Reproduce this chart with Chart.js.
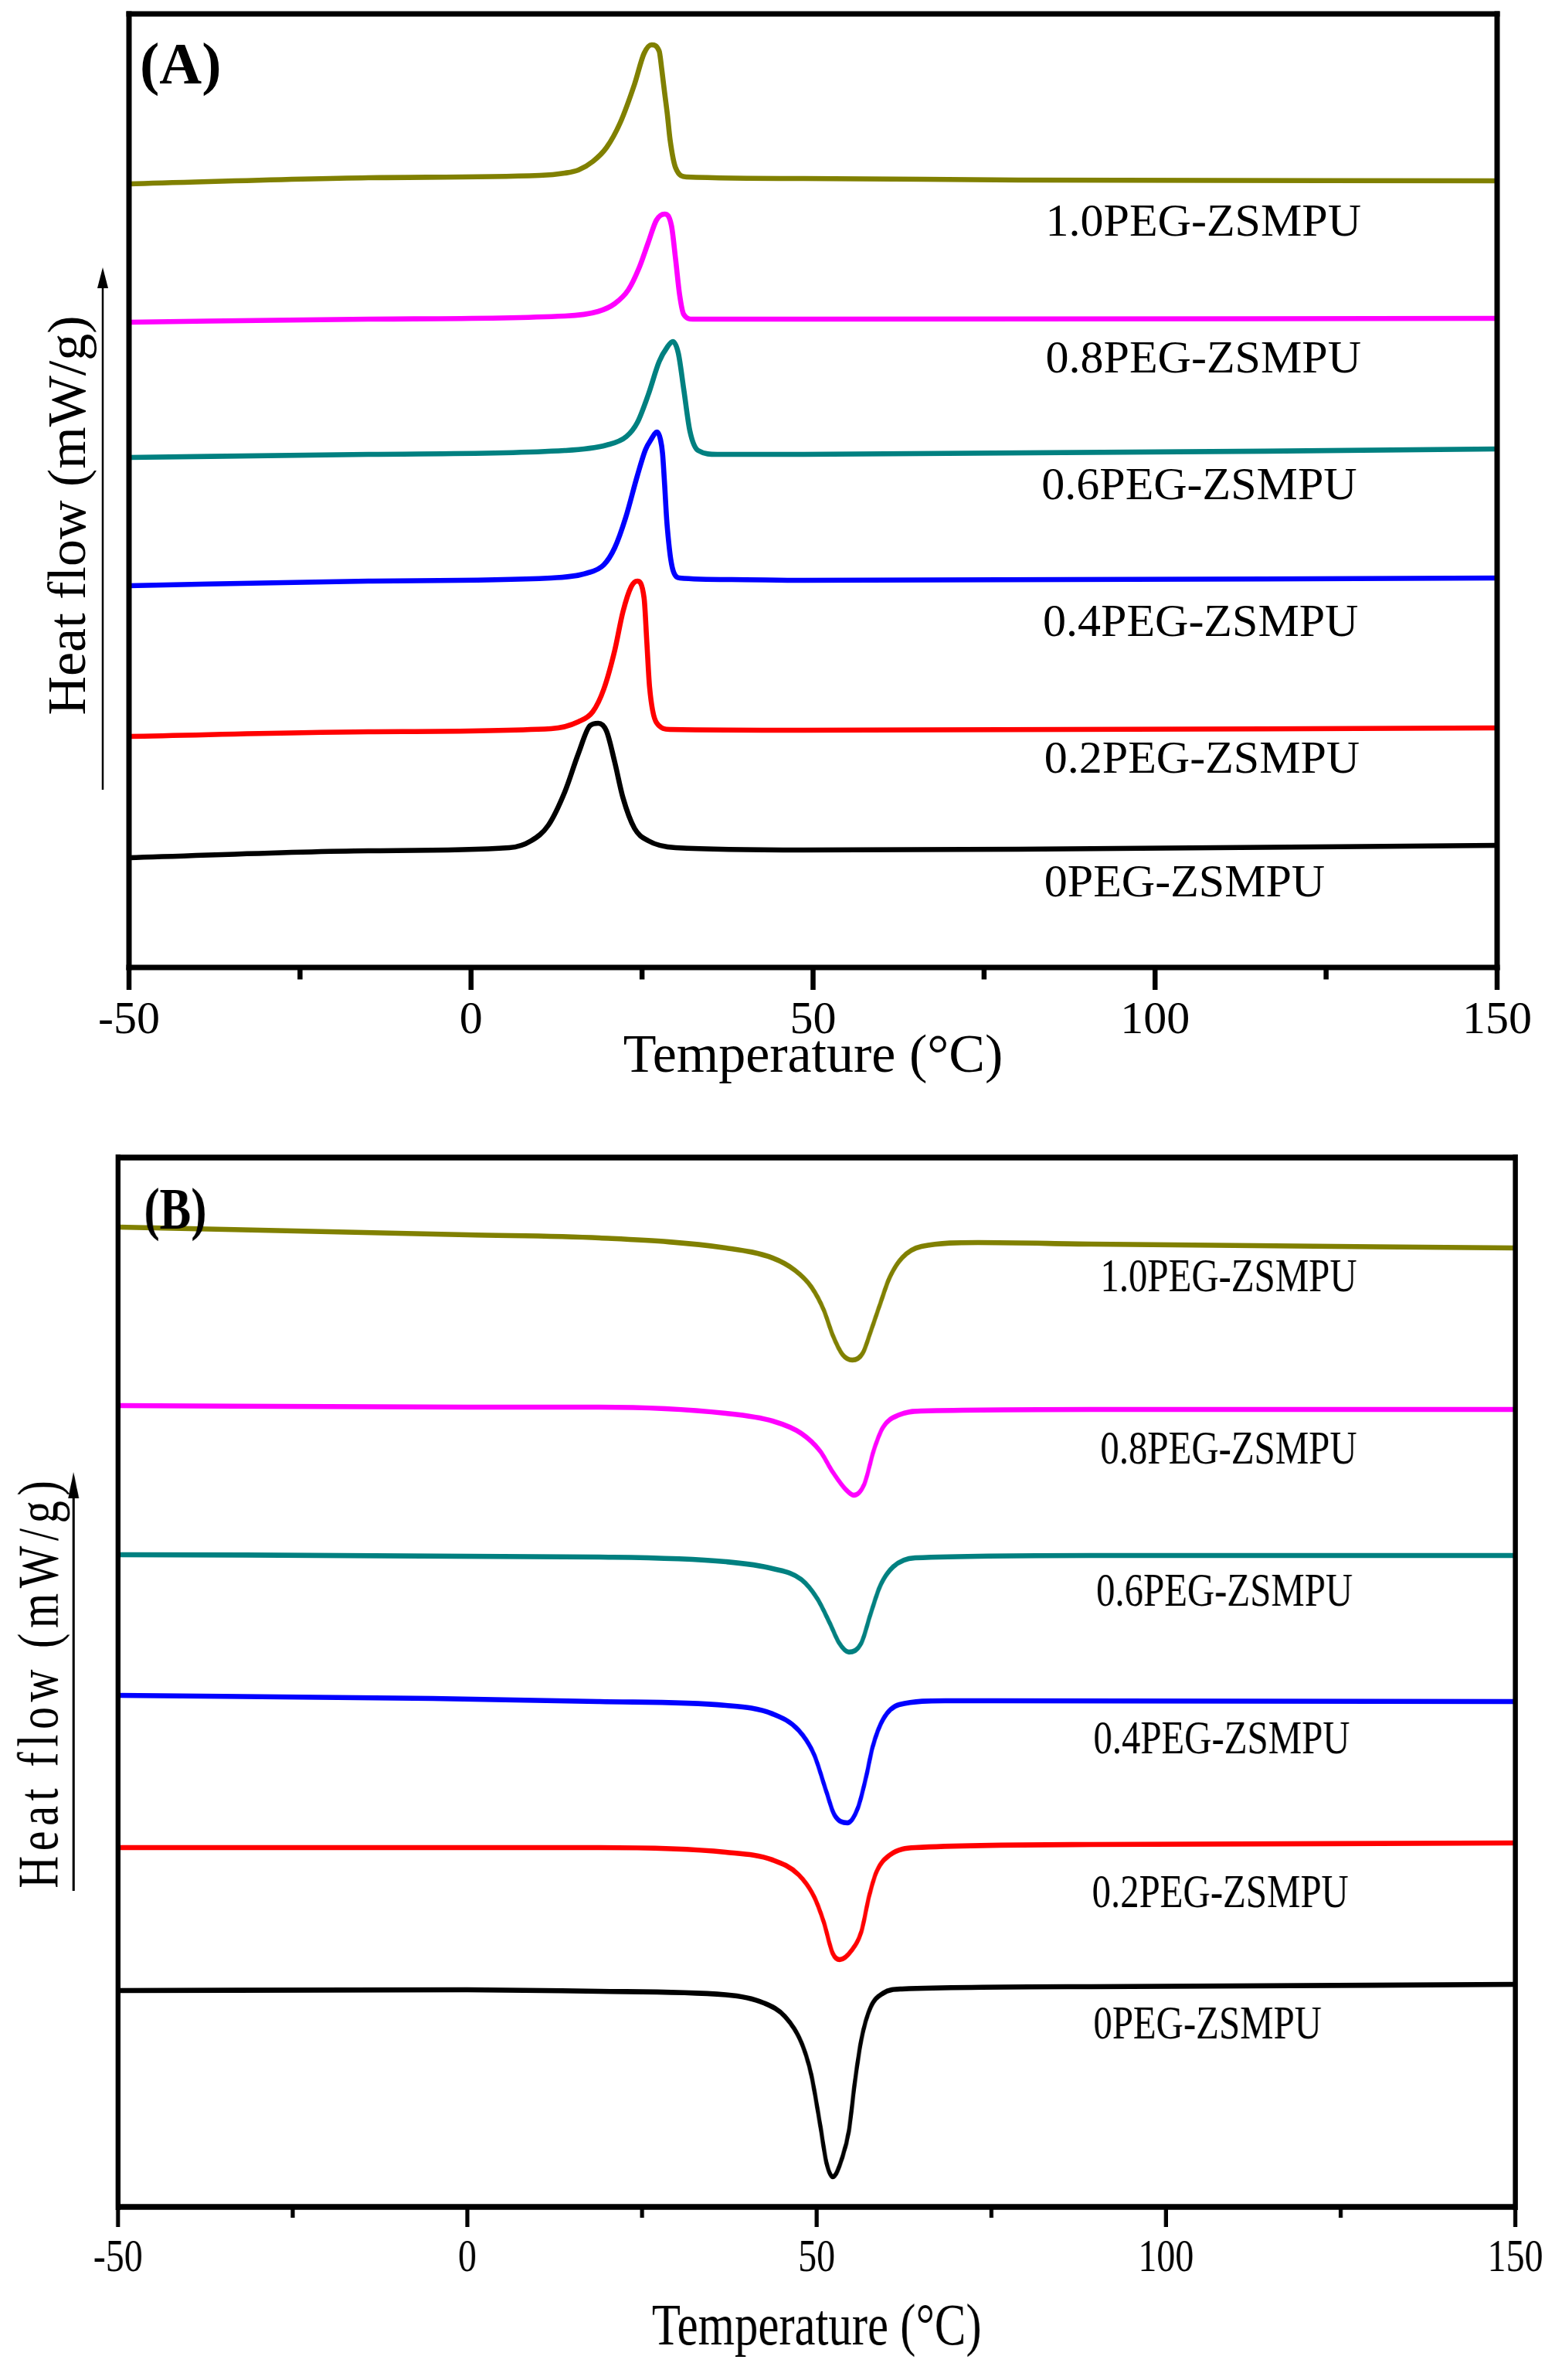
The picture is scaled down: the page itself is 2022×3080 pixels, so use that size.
<!DOCTYPE html>
<html><head><meta charset="utf-8">
<script src="https://cdn.jsdelivr.net/npm/chart.js@4.4.1/dist/chart.umd.min.js"></script>
<style>
html,body{margin:0;padding:0;background:#fff;overflow:hidden;width:2022px;height:3080px;}
#pa{position:absolute;left:0;top:0;width:2022px;height:1440px;}
#pb{position:absolute;left:0;top:1440px;width:2528px;height:1640px;transform:scaleX(0.8);transform-origin:0 0;}
canvas{display:block;}
</style></head><body>
<div id="pa"><canvas id="ca" width="2022" height="1440" style="width:2022px;height:1440px"></canvas></div>
<div id="pb"><canvas id="cb" width="2528" height="1640" style="width:2528px;height:1640px"></canvas></div>
<script>
// ---------- categories / series ----------
const seriesNames  = ['0PEG-ZSMPU','0.2PEG-ZSMPU','0.4PEG-ZSMPU','0.6PEG-ZSMPU','0.8PEG-ZSMPU','1.0PEG-ZSMPU'];
const seriesColors = ['#000000','#ff0000','#0000ff','#008080','#ff00ff','#808000'];
const xTickLabels  = ['-50','0','50','100','150'];

// ---------- Panel A (cooling, exotherm up): temperature (°C) / heat flow (offset, a.u.) ----------
const tA_00 = [-50,-15,5.6,8.8,11.3,13.7,15.7,17.4,18.6,19.8,21.0,22.2,23.9,25.9,29.9,48.6,80,150];
const hA_00 = [14.2,15.1,15.5,16.4,18.4,22.7,27.7,31.3,31.6,30.6,26.6,22.0,18.0,16.4,15.5,15.2,15.3,15.8];
const tA_02 = [-50,-15,11.7,15.7,17.8,19.4,21.0,22.2,23.4,24.3,25.3,25.7,26.1,27.1,29.1,48.6,150];
const hA_02 = [29.9,30.5,30.9,31.8,33.1,36.0,41.0,46.0,49.25,50.0,47.8,42.1,36.3,31.7,30.8,30.7,31.0];
const tA_04 = [-50,-15,11.7,17.0,19.4,21.0,22.6,24.3,25.5,26.3,27.2,27.7,28.0,28.3,28.6,28.9,29.2,29.6,30.5,38.1,48.6,150];
const hA_04 = [49.4,50.0,50.4,51.05,52.1,54.3,58.2,63.6,67.0,68.3,69.3,68.3,66.5,62.5,58.0,55.0,52.8,51.2,50.4,50.2,50.1,50.4];
const tA_06 = [-50,-15,13.7,19.8,22.7,24.3,25.9,27.5,28.7,29.5,30.3,31.1,32.0,33.2,36.0,48.6,150];
const hA_06 = [66.0,66.4,66.9,67.6,68.7,70.5,74.1,78.4,80.3,81.0,79.5,74.8,69.4,66.9,66.4,66.4,67.1];
const tA_08 = [-50,-15,13.7,18.6,21.0,23.0,24.6,25.9,27.1,28.3,29.3,29.9,30.5,31.1,32.4,48.6,150];
const hA_08 = [83.5,83.9,84.3,84.9,85.9,87.7,90.6,93.8,96.7,97.5,96.0,91.7,87.0,84.5,83.9,83.9,84.0];
const tA_10 = [-50,-15,10,13.7,15.7,17.8,19.8,21.8,23.9,25.3,26.4,27.5,27.9,28.3,28.7,29.1,29.9,31.5,48.6,80,150];
const hA_10 = [101.4,102.2,102.5,102.8,103.2,104.3,106.1,109.3,114.3,118.3,119.4,118.6,116.1,113.2,110.4,107.1,103.5,102.3,102.1,101.9,101.8];

// ---------- Panel B (heating, endotherm down) ----------
const tB_00 = [-50,0,18.9,37.0,42.4,45.5,47.8,49.2,50.5,51.4,52.3,53.7,54.6,55.5,56.4,57.7,59.5,62.2,89.3,150];
const hB_00 = [28.0,28.1,27.9,27.45,26.4,24.6,21.3,17.2,10.6,5.7,3.9,6.5,9.8,16.4,21.7,25.8,27.65,28.2,28.5,28.8];
const tB_02 = [-50,18.9,37.0,43.7,47.4,49.6,51.0,52.3,53.3,55.0,56.4,57.5,58.6,60.4,64.1,89.3,150];
const hB_02 = [46.5,46.5,45.9,44.9,43.0,40.2,36.9,32.8,32.0,33.2,35.65,40.2,43.45,45.5,46.5,46.9,47.1];
const tB_04 = [-50,-5,18.9,37.0,43.7,47.4,49.6,51.4,52.5,54.4,55.9,57.1,58.0,59.5,61.8,68.4,150];
const hB_04 = [66.2,65.8,65.4,64.9,63.8,61.7,58.6,53.7,50.8,49.7,51.65,55.75,59.5,63.1,65.0,65.5,65.4];
const tB_06 = [-50,18.9,37.0,43.7,47.8,50.1,51.9,53.2,54.6,56.4,57.7,59.1,60.9,64.1,89.3,150];
const hB_06 = [84.4,84.1,83.5,82.6,81.2,78.7,75.5,73.0,71.8,73.0,76.7,80.4,82.8,84.0,84.3,84.3];
const tB_08 = [-50,0,18.9,37.0,43.7,47.8,50.5,52.3,54.1,55.3,56.8,58.2,59.5,61.8,65.0,89.3,150];
const hB_08 = [103.7,103.5,103.5,102.7,101.7,100.1,97.8,95.1,92.9,92.1,93.5,98.0,100.9,102.5,103.0,103.2,103.2];
const tB_10 = [-50,0,18.9,37.0,43.7,46.9,49.2,51.0,52.3,53.7,55.1,56.6,57.7,59.1,60.4,62.2,65.0,73.1,89.3,150];
const hB_10 = [126.8,125.8,125.4,124.1,122.8,121.2,119.1,116.1,112.8,110.3,109.6,110.5,113.2,116.9,120.2,122.8,124.3,124.8,124.6,124.1];

const panelA_T = [tA_00,tA_02,tA_04,tA_06,tA_08,tA_10];
const panelA_H = [hA_00,hA_02,hA_04,hA_06,hA_08,hA_10];
const panelB_T = [tB_00,tB_02,tB_04,tB_06,tB_08,tB_10];
const panelB_H = [hB_00,hB_02,hB_04,hB_06,hB_08,hB_10];

// ---------- rendering ----------
const SERIF = '"Liberation Serif","Times New Roman",Times,serif';

function buildDatasets(T, H, lw) {
  return T.map((t, s) => ({
    label: seriesNames[s],
    data: t.map((x, i) => ({x: x, y: H[s][i]})),
    borderColor: seriesColors[s],
    backgroundColor: seriesColors[s],
    borderWidth: lw,
    fill: false,
    pointRadius: 0,
    cubicInterpolationMode: 'monotone',
    borderJoinStyle: 'round',
    borderCapStyle: 'round'
  }));
}

function drawSpaced(ctx, text, spacing) {
  const chars = [...text];
  const w = chars.map(c => ctx.measureText(c).width);
  const total = w.reduce((a, b) => a + b, 0) + spacing * (chars.length - 1);
  let x = -total / 2;
  ctx.textAlign = 'left';
  chars.forEach((c, i) => { ctx.fillText(c, x, 0); x += w[i] + spacing; });
}

function panelPlugin(p) {
  return {
    id: 'decor' + p.tag,
    afterDatasetsDraw(chart) {
      const ctx = chart.ctx, a = chart.chartArea, xs = chart.scales.x, ys = chart.scales.y;
      const seg = (x1, y1, x2, y2) => { ctx.beginPath(); ctx.moveTo(x1, y1); ctx.lineTo(x2, y2); ctx.stroke(); };
      ctx.save();
      ctx.strokeStyle = '#000'; ctx.fillStyle = '#000';
      // frame
      ctx.lineCap = 'square';
      ctx.lineWidth = p.frameH;
      seg(a.left, a.top, a.right, a.top); seg(a.left, a.bottom, a.right, a.bottom);
      ctx.lineWidth = p.frameV;
      seg(a.left, a.top, a.left, a.bottom); seg(a.right, a.top, a.right, a.bottom);
      // major / minor ticks (outward)
      ctx.lineCap = 'butt'; ctx.lineWidth = p.tickW;
      for (let v = xs.min; v <= xs.max + 1e-9; v += 25) {
        const x = xs.getPixelForValue(v);
        const L = (Math.abs(v % 50) < 1e-9) ? p.majorLen : p.minorLen;
        seg(x, a.bottom, x, a.bottom + L);
      }
      // panel tag
      ctx.font = p.tagFont; ctx.textAlign = 'left'; ctx.textBaseline = 'alphabetic';
      ctx.fillText(p.tag, p.tagX, p.tagY);
      // curve labels, anchored in data coordinates
      ctx.font = p.labelFont;
      p.labels.forEach((lb, s) => {
        ctx.fillText(seriesNames[s], xs.getPixelForValue(lb[0]), ys.getPixelForValue(lb[1]));
      });
      // y axis title (rotated)
      ctx.save();
      ctx.translate(p.yl.x, p.yl.y);
      ctx.rotate(-Math.PI / 2);
      ctx.scale(1, p.yl.sy);
      ctx.font = p.yl.font; ctx.textBaseline = 'alphabetic';
      drawSpaced(ctx, 'Heat flow (mW/g)', p.yl.spacing);
      ctx.restore();
      // arrow
      const ar = p.arrow;
      ctx.lineWidth = ar.lw; ctx.lineCap = 'butt';
      seg(ar.x, ar.bottom, ar.x, ar.base);
      ctx.beginPath();
      ctx.moveTo(ar.x, ar.tip); ctx.lineTo(ar.x - ar.hw, ar.base); ctx.lineTo(ar.x + ar.hw, ar.base);
      ctx.closePath(); ctx.fill();
      ctx.restore();
    }
  };
}

function makeChart(id, datasets, ymax, pad, xo, plugin) {
  return new Chart(document.getElementById(id), {
    type: 'line',
    data: { datasets },
    options: {
      responsive: false, devicePixelRatio: 1, animation: false, events: [],
      layout: { padding: pad },
      plugins: { legend: { display: false }, tooltip: { enabled: false }, title: { display: false } },
      scales: {
        x: {
          type: 'linear', min: -50, max: 150,
          grid: { display: false, drawTicks: false }, border: { display: false },
          ticks: { stepSize: 50, autoSkip: false, maxRotation: 0, color: '#000',
                   padding: xo.tickPad, font: { family: SERIF, size: 60 },
                   callback: (v) => xTickLabels[Math.round((v + 50) / 50)] },
          title: { display: true, text: 'Temperature (°C)', color: '#000',
                   font: { family: SERIF, size: xo.titleSize }, padding: { top: 0, bottom: xo.titlePad } },
          afterFit: (s) => { s.height = xo.height; }
        },
        y: { type: 'linear', display: false, min: 0, max: ymax }
      }
    },
    plugins: [plugin]
  });
}

makeChart('ca', buildDatasets(panelA_T, panelA_H, 6.6), 123.4,
  { left: 167, right: 84, top: 18, bottom: 0 },
  { tickPad: 33, titleSize: 70, titlePad: 29, height: 188 },
  panelPlugin({
    tag: '(A)', tagFont: 'bold 76px ' + SERIF, tagX: 181, tagY: 108,
    frameH: 7, frameV: 7, tickW: 6.5, majorLen: 29, minorLen: 15.5,
    labelFont: '60px ' + SERIF,
    labels: [[83.8, 9.2], [83.8, 25.2], [83.6, 42.9], [83.4, 60.6], [84.0, 77.0], [84.0, 94.7]],
    yl: { x: 110, y: 667, font: '70px ' + SERIF, spacing: 0, sy: 1 },
    arrow: { x: 133, tip: 346, base: 373, bottom: 1022, hw: 7, lw: 2.5 }
  }));

makeChart('cb', buildDatasets(panelB_T, panelB_H, 6.6), 135.8,
  { left: 191, right: 63, top: 58, bottom: 0 },
  { tickPad: 31, titleSize: 76, titlePad: 20, height: 224 },
  panelPlugin({
    tag: '(B)', tagFont: 'bold 76px ' + SERIF, tagX: 233, tagY: 150,
    frameH: 7.5, frameV: 8, tickW: 6.5, majorLen: 26, minorLen: 14,
    labelFont: '61px ' + SERIF,
    labels: [[89.6, 21.8], [89.4, 38.8], [89.6, 58.7], [90.0, 77.8], [90.6, 96.25], [90.6, 118.5]],
    yl: { x: 92.5, y: 740, font: '58px ' + SERIF, spacing: 6.6, sy: 1.595 },
    arrow: { x: 119, tip: 465, base: 499, bottom: 1007, hw: 8.75, lw: 3.75 }
  }));
</script>
</body></html>
